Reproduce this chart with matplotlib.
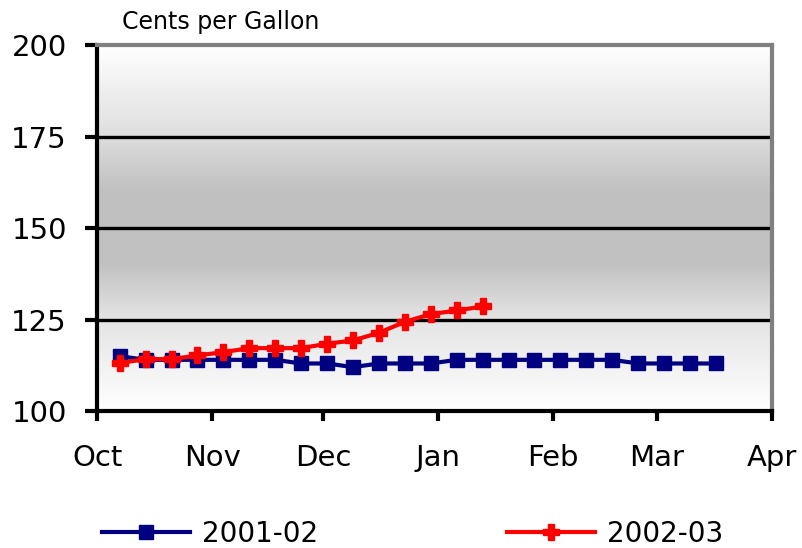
import matplotlib
matplotlib.use("Agg")
import matplotlib.pyplot as plt
from matplotlib.colors import LinearSegmentedColormap
import numpy as np
import pandas as pd

# weekly retail prices, cents per gallon
weeks = ["2002-10-07", "2002-10-14", "2002-10-21", "2002-10-28",
         "2002-11-04", "2002-11-11", "2002-11-18", "2002-11-25",
         "2002-12-02", "2002-12-09", "2002-12-16", "2002-12-23",
         "2002-12-30", "2003-01-06", "2003-01-13", "2003-01-20",
         "2003-01-27", "2003-02-03", "2003-02-10", "2003-02-17",
         "2003-02-24", "2003-03-03", "2003-03-10", "2003-03-17"]
price_0102 = [115, 114, 114, 114, 114, 114, 114, 113, 113, 112, 113, 113,
              113, 114, 114, 114, 114, 114, 114, 114, 113, 113, 113, 113]
price_0203 = [113.1, 114.2, 114.2, 115.2, 116.1, 117.2, 117.2, 117.2,
              118.4, 119.3, 121.4, 124.4, 126.5, 127.5, 128.6]
month_ticks = ["2002-10-01", "2002-11-01", "2002-12-01", "2003-01-01",
               "2003-02-01", "2003-03-01", "2003-04-01"]
month_labels = ["Oct", "Nov", "Dec", "Jan", "Feb", "Mar", "Apr"]
y_ticks = [100, 125, 150, 175, 200]

plt.rcParams['font.family'] = ['DejaVu Sans']

dates = pd.to_datetime(weeks)
fig = plt.figure(figsize=(8.03, 5.48), dpi=100)
ax = fig.add_axes([0.1214, 0.25, 0.8394, 0.667])

# gray gradient background (white top, darker middle, white bottom)
cmap = LinearSegmentedColormap.from_list("bg", [
    (0.0, "#ffffff"), (0.25, "#e4e4e4"), (0.40, "#c2c2c2"),
    (0.60, "#c0c0c0"), (0.78, "#e2e2e2"), (1.0, "#ffffff")])
grad = np.linspace(0, 1, 256).reshape(-1, 1)
ax.imshow(grad, extent=[0, 1, 0, 1], transform=ax.transAxes, cmap=cmap,
          aspect='auto', zorder=0, origin='lower')

ax.set_xlim(pd.Timestamp(month_ticks[0]), pd.Timestamp(month_ticks[-1]))
ax.set_ylim(y_ticks[0], y_ticks[-1])

for yv in y_ticks[1:-1]:
    ax.axhline(yv, color='black', lw=2.4, zorder=1)

ax.plot(dates, price_0102, color='#000080', lw=3, marker='s', ms=10.5,
        label='2001-02', zorder=3)
ax.plot(dates[:len(price_0203)], price_0203, color='#ff0000', lw=3,
        marker='P', ms=11, label='2002-03', zorder=4)

ax.set_xticks(pd.to_datetime(month_ticks))
ax.set_xticklabels(month_labels)
ax.set_yticks(y_ticks)
ax.tick_params(axis='x', length=7, width=3, pad=17, labelsize=21)
ax.tick_params(axis='y', length=9, width=3, pad=13, labelsize=21)

for side in ['left', 'bottom']:
    ax.spines[side].set_linewidth(3)
    ax.spines[side].set_color('black')
for side in ['top', 'right']:
    ax.spines[side].set_linewidth(3)
    ax.spines[side].set_color('#808080')

fig.text(0.152, 0.96, "Cents per Gallon", fontsize=17, va='center', ha='left')

ax.legend(loc='center left', bbox_to_anchor=(-0.01, -0.337), ncol=2,
          frameon=False, fontsize=20, handlelength=3.17, handletextpad=0.43,
          columnspacing=6.8, borderaxespad=0)

fig.savefig("out.png", dpi=100)
